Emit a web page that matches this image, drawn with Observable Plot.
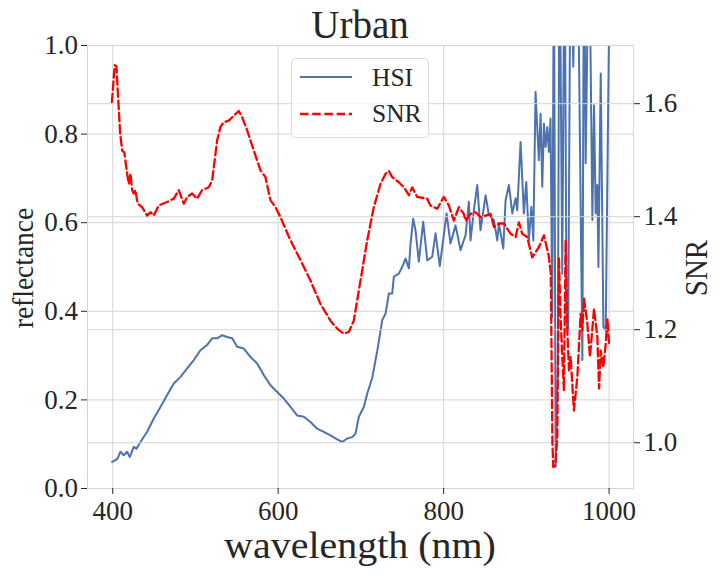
<!DOCTYPE html>
<html><head><meta charset="utf-8">
<script src="https://cdn.jsdelivr.net/npm/d3@7"></script>
<script src="https://cdn.jsdelivr.net/npm/@observablehq/plot@0.6"></script>
<style>
body{margin:0;background:#fff;}
#wrap{position:relative;width:720px;height:576px;font-family:"Liberation Serif","Times New Roman",serif;}
#wrap > svg{position:absolute;left:0;top:0;}
</style></head><body><div id="wrap"></div>
<script>
// ---- data ----
const hsiWavelength = [399.3,403.3,406,409.3,413.3,417.4,420.6,425.4,428.7,433.5,441.6,449.6,457.7,465.8,473.8,481.9,490,498,506,514.1,520.2,526.2,532.3,538.3,544.4,550.4,558.4,566.5,574.6,582.6,590.7,598.8,606.8,614.9,622.9,631,639,647.1,655.1,663.2,671.3,677.4,683.4,689.5,693.5,697.5,703.5,707.6,713.7,719.7,725.8,729.8,733.8,737.8,739.8,745.8,749.9,753.9,758,760,763.2,766,770,775.3,780.2,786.2,790.2,795.4,803.5,808.3,814.4,820.4,826.5,830.5,832.5,836.5,840.6,844.6,850.7,854.7,860.8,864.8,866.8,872.1,874.9,878.9,883,887,889,893,897,899.9,903,906,908.4,911.1,915.1,917.2,919.2,921.2,923.2,925.3,927.2,929.2,931.3,933.3,935.4,938,940,943.4,946.2,948.6,950.6,953.5,956.7,959.5,962.3,967.7,969.7,971.7,975.7,979.8,981.8,983.8,985.8,987.1,989.9,993.1,995.9,1000];
const hsiReflectance = [0.060,0.064,0.068,0.083,0.075,0.083,0.071,0.094,0.090,0.105,0.128,0.158,0.184,0.211,0.237,0.252,0.271,0.290,0.312,0.324,0.339,0.339,0.346,0.342,0.339,0.320,0.316,0.297,0.282,0.256,0.233,0.218,0.203,0.184,0.165,0.162,0.150,0.135,0.128,0.120,0.111,0.105,0.113,0.116,0.124,0.162,0.184,0.214,0.250,0.310,0.380,0.395,0.440,0.440,0.478,0.485,0.500,0.519,0.497,0.553,0.609,0.583,0.512,0.602,0.515,0.523,0.576,0.502,0.621,0.553,0.594,0.538,0.572,0.647,0.560,0.628,0.685,0.583,0.662,0.617,0.606,0.560,0.598,0.542,0.651,0.685,0.621,0.655,0.628,0.782,0.621,0.692,0.560,0.636,0.560,0.895,0.741,0.846,0.681,0.824,0.771,0.816,0.760,0.835,0.387,1.25,0.049,0.260,1.30,0.485,1.30,0.372,0.357,1.30,0.952,1.30,1.20,0.290,1.30,0.734,1.30,0.606,0.865,0.621,0.685,0.500,0.937,0.365,0.357,1.05];
const snrWavelength = [399,402.4,404.5,406,409,411.4,414,417.4,419.4,421.4,423.5,425.4,427.4,430.2,435.5,441.6,445.6,449.6,455.6,465.8,473.8,479.8,485.9,490,496,502,508,516,520.2,526.2,530.2,534.2,540.3,546.3,552.4,556.4,562.5,570.5,578.6,584.6,590.7,596.7,602.8,614.9,627,639,651,663.2,671.3,679.3,685.4,691.4,699.5,707.6,715.6,723.7,729.8,733.8,737.8,745.8,751.9,758,762,768,780,784,792.2,800.2,806.3,812.3,818.4,824.4,826.5,832.5,838.6,844.6,850.7,856.7,860.8,866.8,872.8,880.9,887,891,895,901,907.1,911.1,915.1,921.2,927.2,929.5,931.5,932.5,935,937.4,939.3,941.4,943.4,945.4,947.4,949.5,951.5,953.5,955.5,957.5,961.6,965.6,967.7,969.7,973.7,976.9,981.8,985.8,987.9,989.9,993.1,995.9,998,1000];
const snrValue = [1.603,1.668,1.666,1.624,1.547,1.517,1.514,1.476,1.458,1.476,1.447,1.441,1.447,1.423,1.417,1.402,1.408,1.402,1.420,1.426,1.432,1.447,1.423,1.435,1.441,1.432,1.447,1.452,1.464,1.535,1.559,1.567,1.570,1.579,1.587,1.576,1.553,1.517,1.482,1.470,1.429,1.417,1.399,1.358,1.323,1.287,1.246,1.216,1.202,1.193,1.196,1.216,1.287,1.358,1.417,1.458,1.476,1.481,1.470,1.461,1.452,1.438,1.452,1.435,1.432,1.420,1.414,1.435,1.420,1.393,1.417,1.405,1.393,1.405,1.408,1.399,1.402,1.405,1.382,1.388,1.388,1.370,1.364,1.390,1.370,1.364,1.328,1.337,1.346,1.367,1.330,1.300,1.000,0.957,0.960,1.010,1.328,1.222,1.152,1.093,1.358,1.199,1.128,1.152,1.104,1.057,1.116,1.228,1.199,1.255,1.211,1.152,1.237,1.187,1.096,1.163,1.134,1.175,1.219,1.175];
const xTicks = [400,600,800,1000];
const leftTicks = [0,0.2,0.4,0.6,0.8,1.0];
const rightTicks = [1.0,1.2,1.4,1.6];
const titleText = "Urban";
const xLabel = "wavelength (nm)";
const yLabelLeft = "reflectance";
const yLabelRight = "SNR";
const seriesNames = ["HSI","SNR"];

const hsi = hsiWavelength.map((w,i)=>({w, v:hsiReflectance[i]}));
const snr = snrWavelength.map((w,i)=>({w, v:snrValue[i]}));

const FONT = '"Liberation Serif","Times New Roman",serif';
const GRID = "#d4d4d4";
const BLUE = "#4c72b0";
const common = {
  width:720, height:576, marginLeft:87, marginRight:87, marginTop:45, marginBottom:88,
  style:{fontFamily:FONT, color:"#262626", background:"transparent", overflow:"visible"}
};

const p1 = Plot.plot({
  ...common,
  x:{domain:[369.5,1029.5]},
  y:{domain:[0,1]},
  marks:[
    Plot.gridX(xTicks,{stroke:GRID,strokeOpacity:1,strokeWidth:1}),
    Plot.gridY(leftTicks,{stroke:GRID,strokeOpacity:1,strokeWidth:1}),
    Plot.line(hsi,{x:"w",y:"v",stroke:BLUE,strokeWidth:2,clip:true}),
    Plot.frame({stroke:GRID,strokeOpacity:1}),
    Plot.axisX(xTicks,{tickSize:6,tickPadding:6,tickFormat:d=>String(d),label:null,fontSize:27,fontFamily:FONT}),
    Plot.axisY(leftTicks,{anchor:"left",tickSize:6,tickPadding:3.5,tickFormat:d3.format(".1f"),label:null,fontSize:27,fontFamily:FONT})
  ]
});

const p2 = Plot.plot({
  ...common,
  x:{domain:[369.5,1029.5],axis:null},
  y:{domain:[0.919,1.703]},
  marks:[
    Plot.gridY(rightTicks,{stroke:GRID,strokeOpacity:1,strokeWidth:1}),
    Plot.line(snr,{x:"w",y:"v",stroke:"red",strokeWidth:2.3,strokeDasharray:"8.5,3.7",clip:true}),
    Plot.axisY(rightTicks,{anchor:"right",tickSize:6,tickPadding:4,tickFormat:d3.format(".1f"),label:null,fontSize:27,fontFamily:FONT})
  ]
});

const wrap = document.getElementById("wrap");
wrap.appendChild(p1);
wrap.appendChild(p2);

// overlay: title, axis labels, legend
const ov = d3.select(wrap).append("svg")
  .attr("width",720).attr("height",576)
  .style("font-family",FONT).style("fill","#262626");
ov.append("text").attr("x",360).attr("y",38).attr("text-anchor","middle")
  .attr("font-size",39).attr("fill","#262626").text(titleText);
ov.append("text").attr("transform","translate(360,558) scale(1.08,1)").attr("text-anchor","middle")
  .attr("font-size",37).attr("fill","#262626").text(xLabel);
ov.append("text").attr("transform","translate(33,268) scale(1.08,1) rotate(-90)").attr("text-anchor","middle")
  .attr("font-size",27.5).attr("fill","#262626").text(yLabelLeft);
ov.append("text").attr("transform","translate(707,268) scale(1.08,1) rotate(-90)").attr("text-anchor","middle")
  .attr("font-size",29).attr("fill","#262626").text(yLabelRight);

const lg = ov.append("g");
lg.append("rect").attr("x",291.5).attr("y",58.5).attr("width",137).attr("height",79).attr("rx",4)
  .attr("fill","white").attr("fill-opacity",0.8).attr("stroke","#d8d8d8").attr("stroke-width",1);
lg.append("line").attr("x1",300).attr("x2",352).attr("y1",77).attr("y2",77)
  .attr("stroke",BLUE).attr("stroke-width",2);
lg.append("line").attr("x1",300).attr("x2",352).attr("y1",114).attr("y2",114)
  .attr("stroke","red").attr("stroke-width",2.3).attr("stroke-dasharray","8.5,3.7");
lg.append("text").attr("x",372).attr("y",86).attr("font-size",25.5).attr("fill","#262626").text(seriesNames[0]);
lg.append("text").attr("x",372).attr("y",122).attr("font-size",25.5).attr("fill","#262626").text(seriesNames[1]);
</script></body></html>
